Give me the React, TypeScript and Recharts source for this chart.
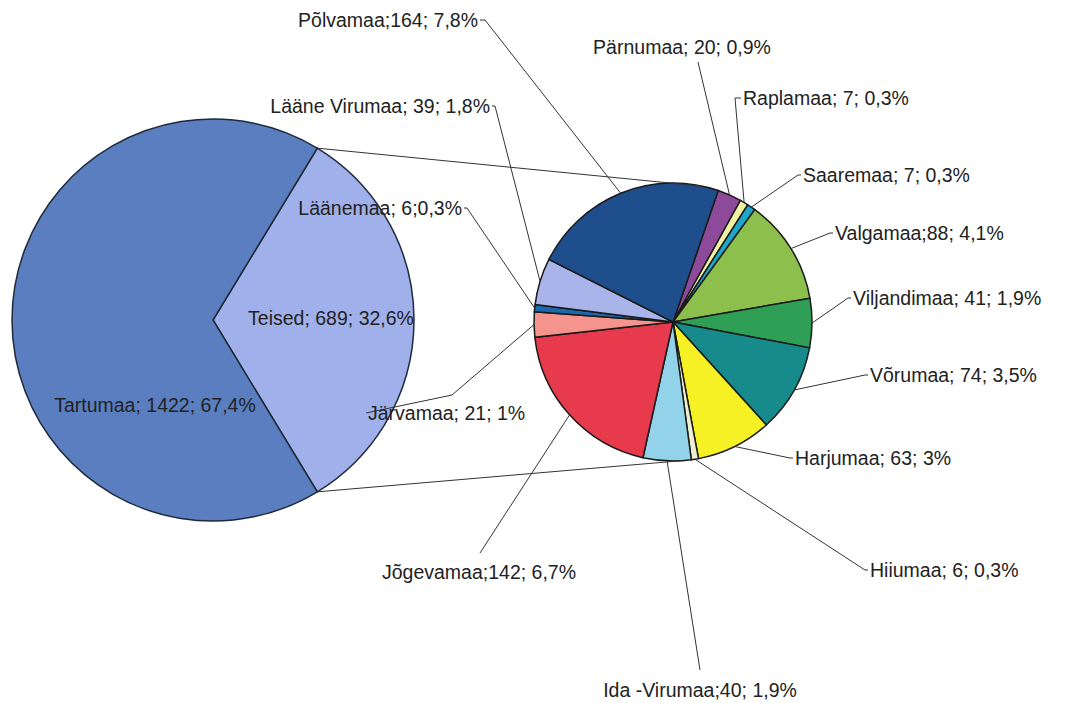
import { PieChart, Pie, Cell } from "recharts";

// main pie
const mainNames = ["Teised", "Tartumaa"];
const mainValues = [689, 1422];
const mainLabels = ["Teised; 689; 32,6%", "Tartumaa; 1422; 67,4%"];
const mainColors = ["#9fb0ea", "#5a7ebf"];

// breakdown of "Teised", clockwise from the top
const countyNames = [
  "Pärnumaa", "Raplamaa", "Saaremaa", "Valgamaa", "Viljandimaa", "Võrumaa", "Harjumaa",
  "Hiiumaa", "Ida -Virumaa", "Jõgevamaa", "Järvamaa", "Läänemaa", "Lääne Virumaa", "Põlvamaa",
];
const countyValues = [20, 7, 7, 88, 41, 74, 63, 6, 40, 142, 21, 6, 39, 164];
const countyLabels = [
  "Pärnumaa; 20; 0,9%", "Raplamaa; 7; 0,3%", "Saaremaa; 7; 0,3%", "Valgamaa;88; 4,1%",
  "Viljandimaa; 41; 1,9%", "Võrumaa; 74; 3,5%", "Harjumaa; 63; 3%", "Hiiumaa; 6; 0,3%",
  "Ida -Virumaa;40; 1,9%", "Jõgevamaa;142; 6,7%", "Järvamaa; 21; 1%", "Läänemaa; 6;0,3%",
  "Lääne Virumaa; 39; 1,8%", "Põlvamaa;164; 7,8%",
];
const countyColors = [
  "#8d4a9b", "#f3f1a4", "#1ea7c9", "#8dbf4c", "#2f9f55", "#178a8c", "#f6f125",
  "#eeeed0", "#92d3ea", "#e73a4c", "#f4948c", "#1c69ae", "#a9b5ea", "#1e4f8c",
];

const mainData = mainNames.map((name, i) => ({ name, value: mainValues[i] }));
const countyData = countyNames.map((name, i) => ({ name, value: countyValues[i] }));

// label placement for the small pie (text spot + elbow of the leader line)
const countySpots = [
  { x: 682, y: 47, anchor: "middle", ex: 698, ey: 62 },
  { x: 743, y: 98, anchor: "start", ex: 735, ey: 98 },
  { x: 803, y: 175, anchor: "start", ex: 798, ey: 175 },
  { x: 835, y: 233, anchor: "start", ex: 830, ey: 233 },
  { x: 853, y: 298, anchor: "start", ex: 848, ey: 298 },
  { x: 870, y: 375, anchor: "start", ex: 865, ey: 375 },
  { x: 795, y: 458, anchor: "start", ex: 790, ey: 458 },
  { x: 870, y: 570, anchor: "start", ex: 865, ey: 570 },
  { x: 700, y: 690, anchor: "middle", ex: 700, ey: 670 },
  { x: 479, y: 572, anchor: "middle", ex: 480, ey: 553 },
  { x: 368, y: 413, anchor: "start", ex: 452, ey: 395 },
  { x: 462, y: 208, anchor: "end", ex: 467, ey: 208 },
  { x: 490, y: 106, anchor: "end", ex: 495, ey: 106 },
  { x: 478, y: 20, anchor: "end", ex: 485, ey: 20 },
];
const mainSpots = [
  { x: 331, y: 318 },
  { x: 155, y: 405 },
];

const BIG = { cx: 213, cy: 320, r: 201 };
const SMALL = { cx: 673, cy: 322, r: 139 };
const RAD = Math.PI / 180;
const FONT = "'Liberation Sans', Arial, sans-serif";
const INK = "#222";

const onCircle = (cx: number, cy: number, r: number, a: number) => [
  cx + r * Math.cos(-a * RAD),
  cy + r * Math.sin(-a * RAD),
];

const renderMainLabel = (props: any) => {
  const { cx, cy, outerRadius, startAngle, endAngle, index } = props;
  const spot = mainSpots[index];
  let links = null;
  if (index === 0) {
    const [ux, uy] = onCircle(cx, cy, outerRadius, Math.max(startAngle, endAngle));
    const [lx, ly] = onCircle(cx, cy, outerRadius, Math.min(startAngle, endAngle));
    const [tx, ty] = onCircle(SMALL.cx, SMALL.cy, SMALL.r, 77.5);
    const [bx, by] = onCircle(SMALL.cx, SMALL.cy, SMALL.r, -87);
    links = (
      <g stroke="#333" strokeWidth={1}>
        <line x1={ux} y1={uy} x2={tx} y2={ty} />
        <line x1={lx} y1={ly} x2={bx} y2={by} />
      </g>
    );
  }
  return (
    <g>
      {links}
      <text x={spot.x} y={spot.y} textAnchor="middle" dominantBaseline="central"
        fill={INK} fontSize={19.5} fontFamily={FONT}>
        {mainLabels[index]}
      </text>
    </g>
  );
};

const renderCountyLabel = (props: any) => {
  const { cx, cy, outerRadius, midAngle, index } = props;
  const [px, py] = onCircle(cx, cy, outerRadius, midAngle);
  const s = countySpots[index];
  const pts = [`${px},${py}`, `${s.ex},${s.ey}`];
  if (s.anchor === "start") pts.push(`${s.x - 2},${s.y}`);
  if (s.anchor === "end") pts.push(`${s.x + 2},${s.y}`);
  return (
    <g>
      <polyline points={pts.join(" ")} fill="none" stroke="#333" strokeWidth={1} />
      <text x={s.x} y={s.y} textAnchor={s.anchor as any} dominantBaseline="central"
        fill={INK} fontSize={19.5} fontFamily={FONT}>
        {countyLabels[index]}
      </text>
    </g>
  );
};

const teisedShare = mainValues[0] / (mainValues[0] + mainValues[1]);
const mainStart = -teisedShare * 180;
const countyStart = 71;

export default function App() {
  return (
    <div style={{ position: "absolute", left: 0, top: 0, background: "#fff" }}>
      <PieChart width={1066} height={703} margin={{ top: 0, right: 0, bottom: 0, left: 0 }}>
        <Pie
          data={mainData}
          dataKey="value"
          nameKey="name"
          cx={BIG.cx}
          cy={BIG.cy}
          outerRadius={BIG.r}
          startAngle={mainStart}
          endAngle={mainStart + 360}
          stroke="#1f2a3a"
          strokeWidth={1.5}
          label={renderMainLabel}
          labelLine={false}
          isAnimationActive={false}
        >
          {mainData.map((d, i) => (
            <Cell key={d.name} fill={mainColors[i]} />
          ))}
        </Pie>
        <Pie
          data={countyData}
          dataKey="value"
          nameKey="name"
          cx={SMALL.cx}
          cy={SMALL.cy}
          outerRadius={SMALL.r}
          startAngle={countyStart}
          endAngle={countyStart - 360}
          stroke="#1a1a1a"
          strokeWidth={1.5}
          label={renderCountyLabel}
          labelLine={false}
          isAnimationActive={false}
        >
          {countyData.map((d, i) => (
            <Cell key={d.name} fill={countyColors[i]} />
          ))}
        </Pie>
      </PieChart>
    </div>
  );
}
